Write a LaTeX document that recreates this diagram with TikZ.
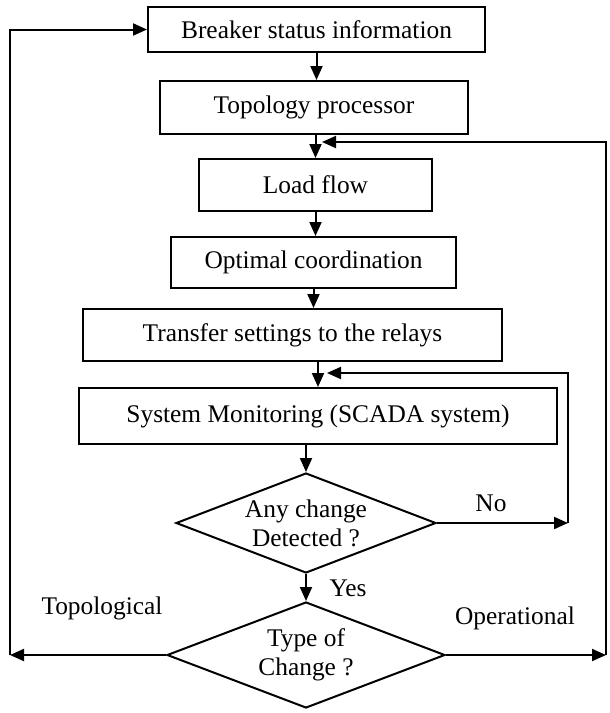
\documentclass[tikz,border=0pt]{standalone}
\usepackage{fontspec}
\setmainfont{Liberation Serif}
\usetikzlibrary{shapes.geometric,arrows.meta}

\tikzset{every picture/.style={line width=1pt}}
\tikzset{
    box/.style={draw, rectangle, inner sep=0pt, font=\fontsize{12.7}{15}\selectfont},
    decision/.style={draw, diamond, aspect=2.6, inner sep=0pt, align=center, font=\fontsize{12.7}{14.5}\selectfont},
    lbl/.style={inner sep=0.75pt, font=\fontsize{12.7}{15}\selectfont},
    arr/.style={-{Triangle[length=7pt,width=6pt]}},
}

\begin{document}
\begin{tikzpicture}[x=0.5pt,y=0.5pt,yscale=-1,xscale=1]
    \useasboundingbox (0,0) rectangle (610,713);

    %Shape: Rectangle [id:info]
    \draw (316.5,29.5) node (info) [box, minimum width=168.5pt, minimum height=22.5pt] {Breaker status information};
    %Shape: Rectangle [id:topo]
    \draw (314,107.5) node (topo) [box, minimum width=154pt, minimum height=26.5pt] {Topology processor};
    %Shape: Rectangle [id:flow]
    \draw (315.5,185) node (flow) [box, minimum width=116.5pt, minimum height=26pt] {Load flow};
    %Shape: Rectangle [id:coord]
    \draw (313.5,262.5) node (coord) [box, minimum width=142.5pt, minimum height=25.5pt] {Optimal coordination};
    %Shape: Rectangle [id:relays]
    \draw (292.5,335) node (relays) [box, minimum width=209.5pt, minimum height=26pt] {Transfer settings to the relays};
    %Shape: Rectangle [id:scada]
    \draw (318,416) node (scada) [box, minimum width=239pt, minimum height=28pt] {System Monitoring (SCADA system)};
    %Shape: Diamond [id:detect]
    \draw (306,523) node (detect) [decision, minimum width=130pt, minimum height=50pt] {Any change\\Detected ?};
    %Shape: Diamond [id:kind]
    \draw (306,655) node (kind) [decision, minimum width=139pt, minimum height=53pt] {Type of\\Change ?};

    %Corners of the loops
    \coordinate (noR) at (568,523);
    \coordinate (noT) at (568,373);
    \coordinate (noE) at (327,373);
    \coordinate (opR) at (606,655);
    \coordinate (opT) at (606,142);
    \coordinate (opE) at (322,142);
    \coordinate (topL) at (10,655);
    \coordinate (topT) at (10,29.5);

    %Straight Lines [id:main]
    \draw [arr] (info.south) -- (info.south |- topo.north);
    \draw [arr] (topo.south -| flow.north) -- (flow.north);
    \draw [arr] (flow.south) -- (flow.south |- coord.north);
    \draw [arr] (coord.south) -- (coord.south |- relays.north);
    \draw [arr] (relays.south -| scada.north) -- (scada.north);
    \draw [arr] (scada.south -| detect.north) -- (detect.north);
    \draw [arr] (detect.south) -- (kind.north);
    %Straight Lines [id:no]
    \draw [arr] (detect.east) -- (noR);
    \draw [arr] (noR) -- (noT) -- (noE);
    %Straight Lines [id:operational]
    \draw [arr] (kind.east) -- (opR);
    \draw [arr] (opR) -- (opT) -- (opE);
    %Straight Lines [id:topological]
    \draw [arr] (kind.west) -- (topL);
    \draw [arr] (topL) -- (topT) -- (info.west);

    % Text Node
    \draw (491,503) node (no) [lbl] {No};
    % Text Node
    \draw (348,588) node (yes) [lbl] {Yes};
    % Text Node
    \draw (102,608) node (topological) [lbl] {Topological};
    % Text Node
    \draw (515,618) node (operational) [lbl] {Operational};

\end{tikzpicture}
\end{document}
